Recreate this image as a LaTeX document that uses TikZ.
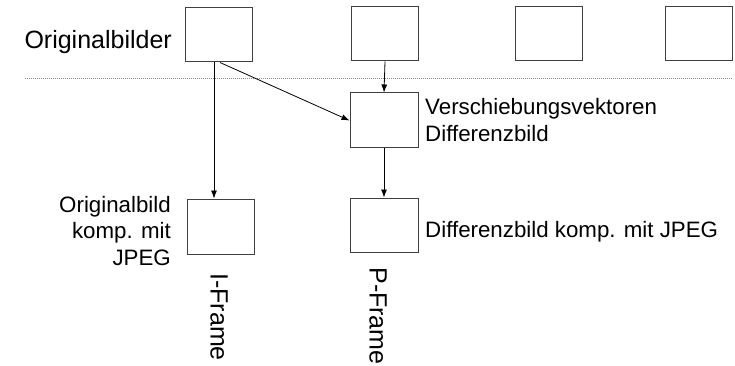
\documentclass[tikz,border=0pt]{standalone}
\usepackage{fontspec}
\setmainfont{Liberation Sans}
\usetikzlibrary{arrows.meta}
\begin{document}
\begin{tikzpicture}[x=1pt,y=-1pt,
  frame/.style={draw=black!75,line width=1pt,fill=white,inner sep=0pt,minimum width=67pt,minimum height=54pt},
  arr/.style={line width=0.8pt,-{Latex[length=8pt,width=6pt]}},
  lbl/.style={inner sep=0pt,font=\fontsize{22.3}{26.5}\selectfont},
  big/.style={inner sep=0pt,font=\fontsize{25}{30}\selectfont}]
\useasboundingbox (0,0) rectangle (735,366);
% dotted separator
\coordinate (dl) at (25,78);
\coordinate (dr) at (733,78);
\draw[black!45,line width=0.9pt,dash pattern=on 1pt off 1pt] (dl) -- (dr);
% original frames
\node[frame] (o1) at (219,35) {};
\node[frame] (o2) at (385,34) {};
\node[frame] (o3) at (549,33.5) {};
\node[frame] (o4) at (698.5,34) {};
% derived frames
\node[frame,minimum width=68pt,minimum height=55pt] (v) at (384,120.5) {};
\node[frame,minimum height=55pt] (i) at (220.5,226.5) {};
\node[frame,minimum width=68pt] (p) at (384,225) {};
% connectors
\draw[arr] ([xshift=-5pt]o1.south) -- ([xshift=-5pt]o1.south |- i.north);
\draw[arr] ([xshift=1pt]o1.south) -- (v.west);
\draw[arr] (o2.south) -- (v.north);
\draw[arr] (v.south) -- (p.north);
% labels
\node[big,anchor=base east] (t1) at (172,49) {Originalbilder};
\node[lbl,anchor=base west] (t2) at (425,115) {Verschiebungsvektoren};
\node[lbl,anchor=base west] (t3) at (425,142) {Differenzbild};
\node[lbl,anchor=base west] (t4) at (425,237) {Differenzbild komp. mit JPEG};
\node[lbl,anchor=base east] (t5) at (171,212) {Originalbild};
\node[lbl,anchor=base east] (t6) at (171,238.5) {komp. mit};
\node[lbl,anchor=base east] (t7) at (171,265) {JPEG};
\node[big,rotate=-90] (t8) at (219,317) {I-Frame};
\node[big,rotate=-90] (t9) at (378,316) {P-Frame};
\end{tikzpicture}
\end{document}
